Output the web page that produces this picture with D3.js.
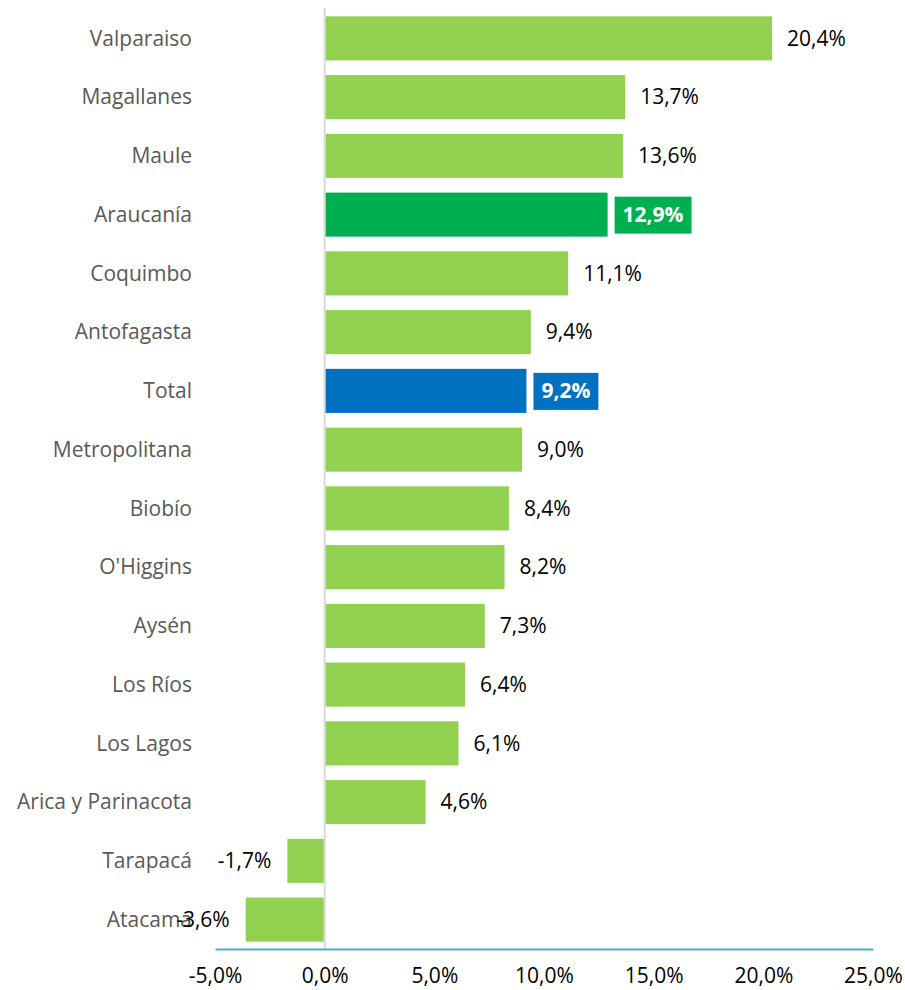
<!DOCTYPE html>
<html>
<head>
<meta charset="utf-8">
<script src="https://cdn.jsdelivr.net/npm/d3@7"></script>
<style>
  body { margin: 0; background: #fff; }
  text { font-family: "Open Sans", sans-serif; }
</style>
</head>
<body>
<div id="chart"></div>
<script>
const regions = ["Valparaiso", "Magallanes", "Maule", "Araucanía", "Coquimbo", "Antofagasta", "Total",
  "Metropolitana", "Biobío", "O'Higgins", "Aysén", "Los Ríos", "Los Lagos", "Arica y Parinacota", "Tarapacá", "Atacama"];
const values = [20.4, 13.7, 13.6, 12.9, 11.1, 9.4, 9.2, 9.0, 8.4, 8.2, 7.3, 6.4, 6.1, 4.6, -1.7, -3.6];
const xTicks = [-5, 0, 5, 10, 15, 20, 25];
const highlight = { "Araucanía": "#00b050", "Total": "#0070c0" };

const width = 905, height = 990;
const margin = { top: 9, right: 32, bottom: 41, left: 215 };
const fs = 21;

const svg = d3.select("#chart").append("svg")
  .attr("width", width)
  .attr("height", height);

const x = d3.scaleLinear()
  .domain([-5, 25])
  .range([margin.left, width - margin.right]);

const y = d3.scaleBand()
  .domain(regions)
  .range([margin.top, height - margin.bottom])
  .paddingInner(0.25)
  .paddingOuter(0.125);

const fmt = v => v.toFixed(1).replace(".", ",") + "%";

// zero line
svg.append("line")
  .attr("x1", x(0)).attr("x2", x(0))
  .attr("y1", margin.top - 1).attr("y2", height - margin.bottom)
  .attr("stroke", "#d9d9d9").attr("stroke-width", 2);

// bars
svg.selectAll("rect.bar")
  .data(regions)
  .join("rect")
  .attr("class", "bar")
  .attr("x", (d, i) => x(Math.min(0, values[i])) + (values[i] >= 0 ? 1 : 0))
  .attr("y", d => y(d))
  .attr("width", (d, i) => Math.abs(x(values[i]) - x(0)) - 1)
  .attr("height", y.bandwidth())
  .attr("fill", d => highlight[d] || "#92d050");

// category labels
svg.selectAll("text.cat")
  .data(regions)
  .join("text")
  .attr("class", "cat")
  .attr("x", 192)
  .attr("y", d => y(d) + y.bandwidth() / 2)
  .attr("dy", "0.35em")
  .attr("text-anchor", "end")
  .attr("font-size", fs)
  .attr("fill", "#595959")
  .text(d => d);

// value labels
regions.forEach((d, i) => {
  const v = values[i];
  const cy = y(d) + y.bandwidth() / 2;
  if (highlight[d]) {
    const bx = x(v) + 7;
    const t = svg.append("text")
      .attr("y", cy)
      .attr("dy", "0.35em")
      .attr("font-size", fs)
      .attr("font-weight", "bold")
      .attr("fill", "#fff")
      .text(fmt(v));
    const w = t.node().getComputedTextLength();
    svg.insert("rect", () => t.node())
      .attr("x", bx)
      .attr("y", cy - 18)
      .attr("width", w + 16)
      .attr("height", 37)
      .attr("fill", highlight[d]);
    t.attr("x", bx + 8);
  } else {
    svg.append("text")
      .attr("x", v >= 0 ? x(v) + 15 : x(v) - 16)
      .attr("y", cy)
      .attr("dy", "0.35em")
      .attr("text-anchor", v >= 0 ? "start" : "end")
      .attr("font-size", fs)
      .attr("fill", "#000")
      .text(fmt(v));
  }
});

// x axis
const axis = svg.append("g")
  .attr("transform", `translate(0,${height - margin.bottom})`)
  .call(d3.axisBottom(x).tickValues(xTicks).tickSize(0).tickPadding(19).tickFormat(fmt));
axis.select(".domain").attr("stroke", "#4bacc6").attr("stroke-width", 2);
axis.selectAll("text")
  .attr("font-size", fs)
  .attr("fill", "#000")
  .style("font-family", "'Open Sans', sans-serif");
</script>
</body>
</html>
